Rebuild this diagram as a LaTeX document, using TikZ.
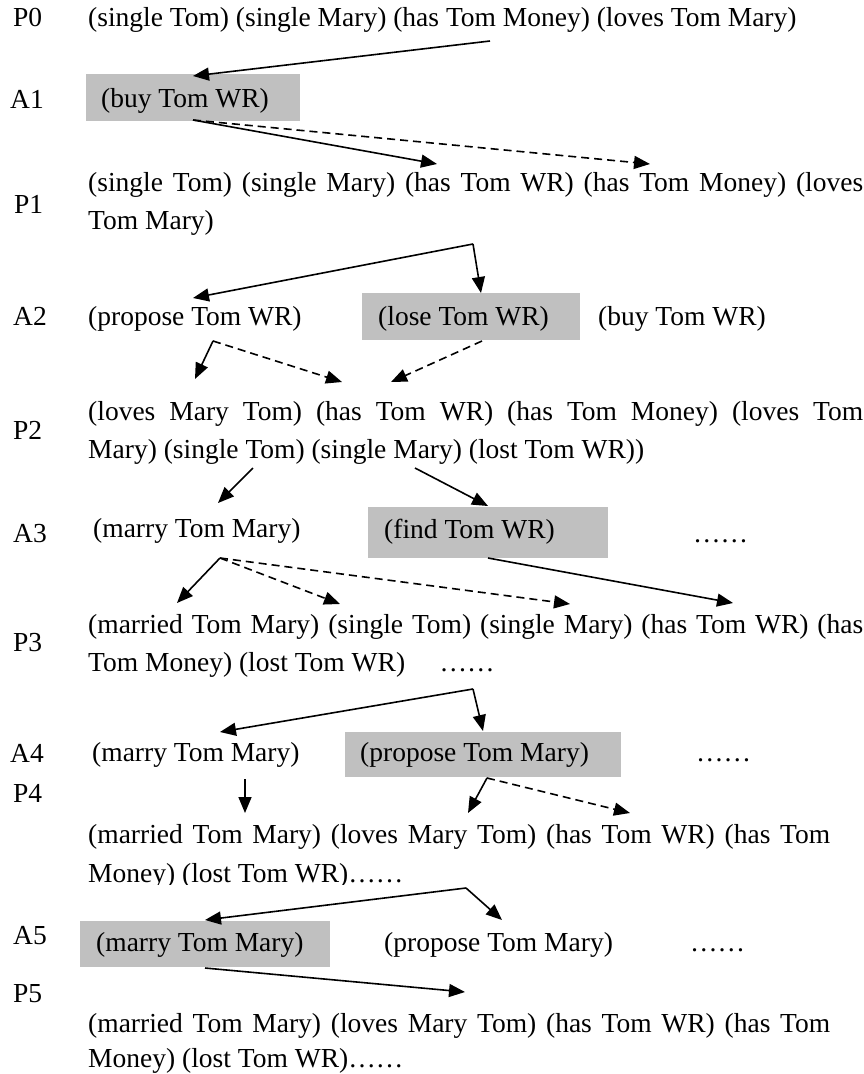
\documentclass[tikz,border=0pt]{standalone}
\usepackage{fontspec}
\setmainfont{Liberation Serif}
\usetikzlibrary{arrows.meta}
\definecolor{boxgray}{RGB}{192,192,192}
\begin{document}
\begin{tikzpicture}[x=1pt,y=-1pt,
  every node/.style={inner sep=0pt,font=\fontsize{27.5}{38}\selectfont},
  txt/.style={anchor=west,text height=19pt,text depth=6pt},
  lbl/.style={anchor=west,text height=19pt,text depth=6pt},
  gbox/.style={fill=boxgray,draw=none},
  arr/.style={line width=1.6pt,-{Triangle[length=16pt,width=13pt]}},
  darr/.style={arr,dash pattern=on 8pt off 5pt}]
\useasboundingbox (0,0) rectangle (864,1074);
% gray boxes
\fill[boxgray] (86,74) rectangle (300,121);
\fill[boxgray] (362,293) rectangle (580,340);
\fill[boxgray] (368,507) rectangle (608,558);
\fill[boxgray] (345,732) rectangle (621,777);
\fill[boxgray] (80,921) rectangle (330,967);
% labels
\node[lbl] (lP0) at (13,20) {P0};
\node[lbl] (lA1) at (10,102) {A1};
\node[lbl] (lP1) at (14,207) {P1};
\node[lbl] (lA2) at (13,319) {A2};
\node[lbl] (lP2) at (13,433) {P2};
\node[lbl] (lA3) at (13,536) {A3};
\node[lbl] (lP3) at (13,645) {P3};
\node[lbl] (lA4) at (10,756) {A4};
\node[lbl] (lP4) at (13,796) {P4};
\node[lbl] (lA5) at (13,938) {A5};
\node[lbl] (lP5) at (13,996) {P5};
% texts
\node[txt] (P0) at (88,20) {(single Tom) (single Mary) (has Tom Money) (loves Tom Mary)};
\node[txt] (A1a) at (101,101) {(buy Tom WR)};
\node[txt] (P1a) at (88,185) {\makebox[775pt][s]{(single Tom) (single Mary) (has Tom WR) (has Tom Money) (loves}};
\node[txt] (P1b) at (88,223) {Tom Mary)};
\node[txt] (A2a) at (88,319) {(propose Tom WR)};
\node[txt] (A2b) at (378,319) {(lose Tom WR)};
\node[txt] (A2c) at (598,319) {(buy Tom WR)};
\node[txt] (P2a) at (88,414) {\makebox[775pt][s]{(loves Mary Tom) (has Tom WR) (has Tom Money) (loves Tom}};
\node[txt] (P2b) at (88,452) {Mary) (single Tom) (single Mary) (lost Tom WR))};
\node[txt] (A3a) at (93,531) {(marry Tom Mary)};
\node[txt] (A3b) at (384,532) {(find Tom WR)};
\node[txt] (A3c) at (693,536) {\dots\dots};
\node[txt] (P3a) at (88,627) {\makebox[775pt][s]{(married Tom Mary) (single Tom) (single Mary) (has Tom WR) (has}};
\node[txt] (P3b) at (88,665) {Tom Money) (lost Tom WR)\quad\ \dots\dots};
\node[txt] (A4a) at (92,755) {(marry Tom Mary)};
\node[txt] (A4b) at (360,755) {(propose Tom Mary)};
\node[txt] (A4c) at (696,755) {\dots\dots};
\node[txt] (P4a) at (88,837) {\makebox[742pt][s]{(married Tom Mary) (loves Mary Tom) (has Tom WR) (has Tom}};
\begin{scope}
\clip (0,850) rectangle (864,884);
\node[txt] (P4b) at (88,876) {Money) (lost Tom WR)\dots\dots};
\end{scope}
\node[txt] (A5a) at (96,945) {(marry Tom Mary)};
\node[txt] (A5b) at (384,945) {(propose Tom Mary)};
\node[txt] (A5c) at (690,945) {\dots\dots};
\node[txt] (P5a) at (88,1026) {\makebox[742pt][s]{(married Tom Mary) (loves Mary Tom) (has Tom WR) (has Tom}};
\node[txt] (P5b) at (88,1061) {Money) (lost Tom WR)\dots\dots};
% arrow points
\coordinate (s1) at (490,41);  \coordinate (e1) at (193,76);
\coordinate (s2) at (193,120); \coordinate (e2) at (437,164); \coordinate (e3) at (650,164);
\coordinate (s4) at (473,244); \coordinate (e4) at (193,298); \coordinate (e5) at (481,293);
\coordinate (s6) at (213,341); \coordinate (e6) at (195,379); \coordinate (e7) at (342,382);
\coordinate (s8) at (482,341); \coordinate (e8) at (391,382);
\coordinate (s9) at (253,468); \coordinate (e9) at (218,503);
\coordinate (s10) at (415,468); \coordinate (e10) at (488,506);
\coordinate (s11) at (220,558); \coordinate (e11) at (177,603); \coordinate (e12) at (340,604); \coordinate (e13) at (570,604);
\coordinate (s14) at (488,558); \coordinate (e14) at (733,603);
\coordinate (s15) at (473,689); \coordinate (e15) at (220,732); \coordinate (e16) at (483,731);
\coordinate (s17) at (245,779); \coordinate (e17) at (245,813);
\coordinate (s18) at (487,778); \coordinate (e18) at (468,813); \coordinate (e19) at (630,813);
\coordinate (s20) at (466,888); \coordinate (e20) at (205,920); \coordinate (e21) at (502,920);
\coordinate (s22) at (205,968); \coordinate (e22) at (465,992);
\draw[arr] (s1) -- (e1);
\draw[arr] (s2) -- (e2);
\draw[darr] (s2) -- (e3);
\draw[arr] (s4) -- (e4);
\draw[arr] (s4) -- (e5);
\draw[arr] (s6) -- (e6);
\draw[darr] (s6) -- (e7);
\draw[darr] (s8) -- (e8);
\draw[arr] (s9) -- (e9);
\draw[arr] (s10) -- (e10);
\draw[arr] (s11) -- (e11);
\draw[darr] (s11) -- (e12);
\draw[darr] (s11) -- (e13);
\draw[arr] (s14) -- (e14);
\draw[arr] (s15) -- (e15);
\draw[arr] (s15) -- (e16);
\draw[arr] (s17) -- (e17);
\draw[arr] (s18) -- (e18);
\draw[darr] (s18) -- (e19);
\draw[arr] (s20) -- (e20);
\draw[arr] (s20) -- (e21);
\draw[arr] (s22) -- (e22);
\end{tikzpicture}
\end{document}
